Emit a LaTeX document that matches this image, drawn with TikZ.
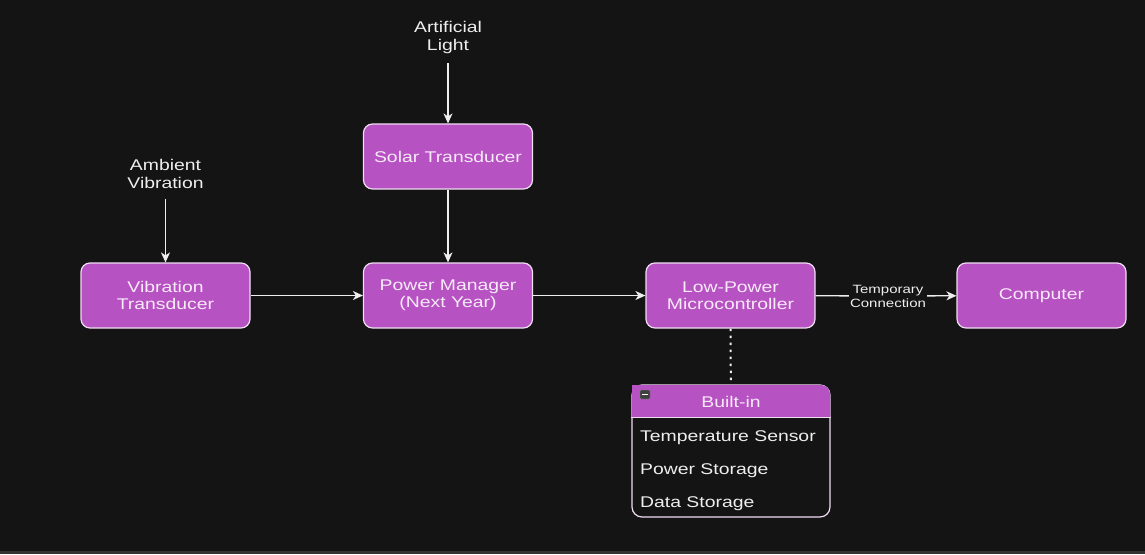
\documentclass[tikz,border=0pt]{standalone}
\usepackage{fontspec}
\setmainfont{Liberation Sans}[FakeStretch=1.25]
\usetikzlibrary{arrows.meta}
\definecolor{bgdark}{HTML}{141414}
\definecolor{boxfill}{HTML}{B652C2}
\definecolor{boxtext}{HTML}{F8EAF9}
\definecolor{boxline}{HTML}{F0DDF2}
\definecolor{wirecol}{HTML}{EEEEEE}
\tikzset{
  box/.style={draw=boxline, line width=1.2pt, fill=boxfill, rounded corners=9pt,
    minimum width=169pt, minimum height=65pt, text=boxtext, align=center,
    font=\fontsize{15.5}{17}\selectfont},
  lbl/.style={text=wirecol, align=center, inner sep=2pt,
    font=\fontsize{15.5}{18}\selectfont},
  flow/.style={draw=wirecol, line width=1.3pt,
    -{Stealth[length=10pt,width=9pt,inset=3pt]}},
}
\begin{document}
\begin{tikzpicture}[x=1pt,y=-1pt]
\useasboundingbox[fill=bgdark] (0,0) rectangle (1145,554);
\fill[black!80] (0,551) rectangle (1145,554);
% Boxes
\node[box] (vib) at (165.5,295.5) {Vibration\\Transducer};
\node[box] (sol) at (448,156.5) {Solar Transducer};
\node[box] (pm) at (448,295.5) {Power Manager\\(Next Year)};
\node[box] (mcu) at (730.5,295.5) {Low-Power\\Microcontroller};
\node[box] (comp) at (1041.5,295.5) {Computer};
% Inputs
\node[lbl] (light) at (448,37) {Artificial\\Light};
\node[lbl] (amb) at (165.5,174) {Ambient\\Vibration};
\node[lbl, font=\fontsize{12}{14}\selectfont, inner sep=1pt] (tmp) at (888,296) {Temporary\\Connection};
% Arrows
\draw[flow] ([yshift=-8pt]light.south) -- (sol);
\draw[flow] ([yshift=-8pt]amb.south) -- (vib);
\draw[flow] (sol) -- (pm);
\draw[flow] (vib) -- (pm);
\draw[flow] (pm) -- (mcu);
\draw[draw=wirecol, line width=1.3pt] (mcu) -- (tmp);
\draw[flow] (tmp) -- (comp);

% Built-in container
\node[draw=boxline, line width=1.2pt, fill=bgdark, rounded corners=10pt,
  minimum width=198pt, minimum height=132pt, inner sep=0] (bi) at (731,451) {};
\fill[boxfill, rounded corners=9pt] ([shift={(0.6,0.6)}]bi.north west)
  -- ([shift={(-0.6,0.6)}]bi.north east) [sharp corners]
  -- ([shift={(-0.6,33)}]bi.north east) -- ([shift={(0.6,33)}]bi.north west) -- cycle;
\draw[boxline, line width=1.2pt] ([yshift=-33pt]bi.north west) -- ([yshift=-33pt]bi.north east);
\node[text=boxtext, font=\fontsize{15.5}{17}\selectfont] (bihead) at (731,401.5) {Built-in};
\node[fill=black!75, draw=black!50, rounded corners=1pt, minimum width=10pt, minimum height=9pt, inner sep=0] (mn) at (645,394.5) {};
\draw[white, line width=1.2pt] ([xshift=-3pt]mn.center) -- ([xshift=3pt]mn.center);
\node[anchor=base west, text=wirecol, inner sep=0, font=\fontsize{15.5}{17}\selectfont] (r1) at (640,441) {Temperature Sensor};
\node[anchor=base west, text=wirecol, inner sep=0, font=\fontsize{15.5}{17}\selectfont] (r2) at (640,474) {Power Storage};
\node[anchor=base west, text=wirecol, inner sep=0, font=\fontsize{15.5}{17}\selectfont] (r3) at (640,507) {Data Storage};
\draw[wirecol, line width=2pt, dash pattern=on 2.5pt off 4.5pt] (mcu) -- (bi);

\end{tikzpicture}
\end{document}
